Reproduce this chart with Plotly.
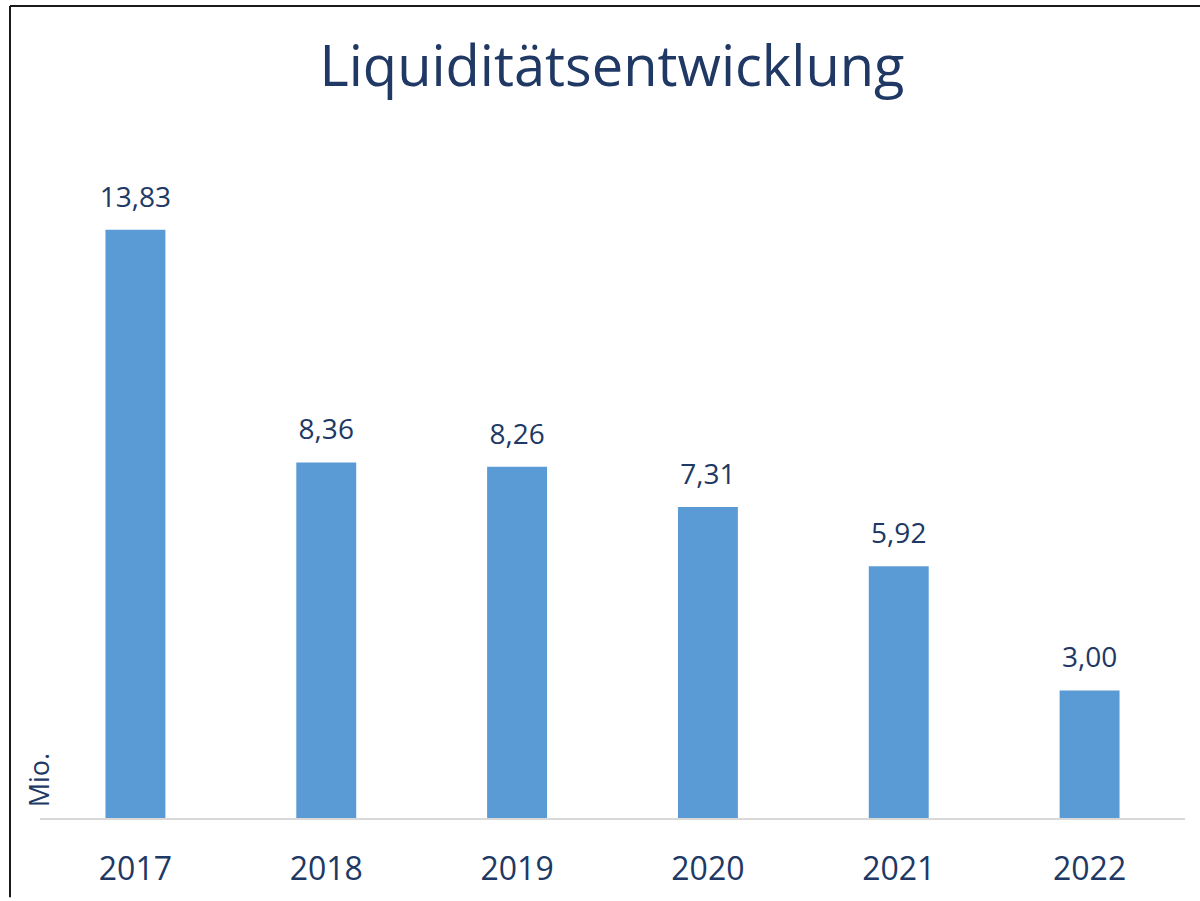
import plotly.graph_objects as go

years = ["2017", "2018", "2019", "2020", "2021", "2022"]
liquidity = [13.83, 8.36, 8.26, 7.31, 5.92, 3.00]
title_text = "Liquiditätsentwicklung"
unit_label = "Mio."

NAVY = "#203864"
BAR = "#5B9BD5"
FONT = "Open Sans"

fig = go.Figure()
fig.add_trace(
    go.Bar(
        x=years,
        y=liquidity,
        marker=dict(color=BAR, line=dict(width=0)),
        hoverinfo="skip",
    )
)
fig.add_trace(
    go.Scatter(
        x=years,
        y=liquidity,
        mode="markers+text",
        marker=dict(size=24, color="rgba(0,0,0,0)"),
        text=[f"{v:.2f}".replace(".", ",") for v in liquidity],
        textposition="top center",
        textfont=dict(family=FONT, size=28, color=NAVY),
        hoverinfo="skip",
        cliponaxis=False,
    )
)

W, H = 1200, 901
ml, mr, mt, mb = 40, 15, 180, 76
pw = W - ml - mr
ph = H - mt - mb

fig.update_layout(
    width=W,
    height=H,
    margin=dict(l=ml, r=mr, t=mt, b=mb, pad=0),
    paper_bgcolor="white",
    plot_bgcolor="white",
    bargap=0.686,
    showlegend=False,
    title=dict(
        text=title_text,
        x=612 / W,
        xanchor="center",
        y=1 - 66 / H,
        yanchor="middle",
        font=dict(family=FONT, size=56, color=NAVY),
    ),
    xaxis=dict(
        type="category",
        showline=True,
        linecolor="#D9D9D9",
        linewidth=2,
        showgrid=False,
        ticks="",
        ticklabelstandoff=22,
        tickfont=dict(family=FONT, size=32, color=NAVY),
    ),
    yaxis=dict(
        range=[0, 15],
        visible=False,
        showgrid=False,
        zeroline=False,
    ),
    annotations=[
        dict(
            text=unit_label,
            xref="paper",
            yref="paper",
            x=-0.001,
            y=(825 - 787) / ph,
            xanchor="center",
            yanchor="middle",
            textangle=-90,
            showarrow=False,
            font=dict(family=FONT, size=27, color=NAVY),
        )
    ],
    shapes=[
        dict(
            type="line",
            xref="paper",
            yref="paper",
            x0=(10 - ml) / pw,
            x1=(10 - ml) / pw,
            y0=(H - mb - 905) / ph,
            y1=(H - mb - 4) / ph,
            line=dict(color="#1a1a1a", width=2),
            layer="above",
        ),
        dict(
            type="line",
            xref="paper",
            yref="paper",
            x0=(10 - ml) / pw,
            x1=(1205 - ml) / pw,
            y0=(H - mb - 4) / ph,
            y1=(H - mb - 4) / ph,
            line=dict(color="#1a1a1a", width=2),
            layer="above",
        ),
    ],
)

fig.write_html(
    "out.html",
    config={"displayModeBar": False},
    post_script="document.body.style.margin='0';document.body.style.overflow='hidden';",
)
